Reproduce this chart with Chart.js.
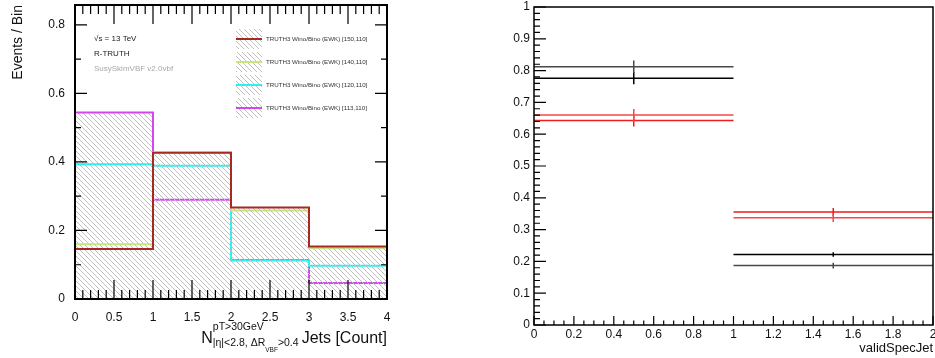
<!DOCTYPE html>
<html>
<head>
<meta charset="utf-8">
<script src="https://cdn.jsdelivr.net/npm/chart.js@4.4.0/dist/chart.umd.min.js"></script>
<style>
  html, body { margin: 0; padding: 0; background: #fff; }
  #wrap { position: relative; width: 935px; height: 358px; overflow: hidden; }
  #jetsChart { position: absolute; left: 0; top: 0; }
  #specChart { position: absolute; left: 467px; top: 0; }
</style>
</head>
<body>
<div id="wrap">
  <canvas id="jetsChart" width="467" height="358"></canvas>
  <canvas id="specChart" width="468" height="358"></canvas>
</div>
<script>
// N jets histogram (left)
const jetEdges = [0, 1, 2, 3, 4];
const jetLabels = [
  'TRUTH3 Wino/Bino (EWK) [150,110]',
  'TRUTH3 Wino/Bino (EWK) [140,110]',
  'TRUTH3 Wino/Bino (EWK) [120,110]',
  'TRUTH3 Wino/Bino (EWK) [113,110]'
];
const jet150 = [0.146, 0.427, 0.267, 0.153];
const jet140 = [0.160, 0.428, 0.258, 0.148];
const jet120 = [0.393, 0.389, 0.112, 0.097];
const jet113 = [0.544, 0.290, 0.114, 0.047];
const jetXTicks = [0, 0.5, 1, 1.5, 2, 2.5, 3, 3.5, 4];
const jetYTicks = [0, 0.2, 0.4, 0.6, 0.8];

// validSpecJet fractions (right)
const specEdges = [0, 1, 2];
const specGreyVals = [0.812, 0.187];
const specGreyErrs = [0.020, 0.009];
const specBlackVals = [0.776, 0.222];
const specBlackErrs = [0.019, 0.007];
const specRedAVals = [0.660, 0.337];
const specRedAErrs = [0.019, 0.013];
const specRedBVals = [0.643, 0.355];
const specRedBErrs = [0.019, 0.013];
const specXTicks = [0, 0.2, 0.4, 0.6, 0.8, 1, 1.2, 1.4, 1.6, 1.8, 2];
const specYTicks = [0, 0.1, 0.2, 0.3, 0.4, 0.5, 0.6, 0.7, 0.8, 0.9, 1];

Chart.defaults.font.family = "'Liberation Sans', Arial, sans-serif";
Chart.defaults.color = '#111';

const fmt = v => String(Math.round(v * 1000) / 1000);

function stepPoints(edges, vals) {
  const pts = vals.map((v, i) => ({ x: edges[i], y: v }));
  pts.push({ x: edges[edges.length - 1], y: vals[vals.length - 1] });
  return pts;
}

function binSegments(edges, vals) {
  const pts = [];
  vals.forEach((v, i) => {
    if (i) pts.push({ x: edges[i], y: null });
    pts.push({ x: edges[i], y: v }, { x: edges[i + 1], y: v });
  });
  return pts;
}

function errorBars(edges, vals, errs) {
  const pts = [];
  vals.forEach((v, i) => {
    const c = (edges[i] + edges[i + 1]) / 2;
    if (i) pts.push({ x: c, y: null });
    pts.push({ x: c, y: v - errs[i] }, { x: c, y: v + errs[i] });
  });
  return pts;
}

function hatch(ctx) {
  const c = document.createElement('canvas');
  c.width = 5; c.height = 5;
  const g = c.getContext('2d');
  g.fillStyle = '#c0c0c0';
  for (let i = 0; i < 5; i++) g.fillRect(i, i, 1, 1);
  return ctx.createPattern(c, 'repeat');
}

// ROOT style ticks drawn inside the frame
const rootTicks = {
  id: 'rootTicks',
  afterDraw(chart, args, opts) {
    const { ctx, chartArea: a, scales } = chart;
    ctx.save();
    ctx.strokeStyle = '#000';
    ctx.lineWidth = 1.2;
    ctx.beginPath();
    ['x', 'y'].forEach(id => {
      const spec = opts[id];
      const s = scales[id];
      const n = Math.round((s.max - s.min) / spec.minor);
      for (let i = 0; i <= n; i++) {
        const v = s.min + i * spec.minor;
        const r = v / spec.major;
        const len = Math.abs(r - Math.round(r)) < 1e-6 ? spec.majorLen : spec.minorLen;
        const p = s.getPixelForValue(v);
        if (id === 'x') {
          ctx.moveTo(p, a.bottom); ctx.lineTo(p, a.bottom - len);
          if (spec.mirror) { ctx.moveTo(p, a.top); ctx.lineTo(p, a.top + len); }
        } else {
          ctx.moveTo(a.left, p); ctx.lineTo(a.left + len, p);
          if (spec.mirror) { ctx.moveTo(a.right, p); ctx.lineTo(a.right - len, p); }
        }
      }
    });
    ctx.stroke();
    ctx.lineWidth = opts.frame;
    ctx.strokeRect(a.left, a.top, a.width, a.height);
    ctx.restore();
  }
};

// labels, legend and axis title of the jets plot
const jetNotes = {
  id: 'jetNotes',
  afterDraw(chart, args, opts) {
    const ctx = chart.ctx;
    const fam = "'Liberation Sans', Arial, sans-serif";
    ctx.save();
    ctx.textBaseline = 'middle';
    ctx.textAlign = 'left';
    ctx.font = '8px ' + fam;
    ctx.fillStyle = '#222';
    ctx.fillText('\u221As = 13 TeV', 94, 39);
    ctx.fillText('R-TRUTH', 94, 54);
    ctx.fillStyle = '#a8a8a8';
    ctx.fillText('SusySkimVBF v2.0vbf', 94, 69);

    chart.data.datasets.forEach((ds, i) => {
      const y = 39 + i * 23;
      ctx.fillStyle = opts.pattern;
      ctx.fillRect(236, y - 10, 26, 20);
      ctx.strokeStyle = ds.borderColor;
      ctx.lineWidth = 2;
      ctx.beginPath();
      ctx.moveTo(236, y); ctx.lineTo(262, y);
      ctx.stroke();
      ctx.fillStyle = '#333';
      ctx.font = '6.2px ' + fam;
      ctx.fillText(ds.label, 266, y);
    });

    // x title: N^{pT>30GeV}_{|eta|<2.8, dR_VBF>0.4} Jets [Count]
    ctx.fillStyle = '#111';
    ctx.textBaseline = 'alphabetic';
    const base = 343;
    const w = (txt, size) => { ctx.font = size + 'px ' + fam; return ctx.measureText(txt).width; };
    const subParts = [['|\u03B7|<2.8, \u0394R', 10.5, 3], ['VBF', 6.5, 9], ['>0.4', 10.5, 3]];
    const wN = w('N', 16);
    const wSup = w('pT>30GeV', 10.5);
    const wSub = subParts.reduce((t, p) => t + w(p[0], p[1]), 0);
    const wStack = Math.max(wSup, wSub);
    const wJets = w('Jets [Count]', 16);
    let x = chart.chartArea.right - (wN + wStack + 3 + wJets);
    ctx.font = '16px ' + fam;
    ctx.fillText('N', x, base);
    x += wN;
    ctx.font = '10.5px ' + fam;
    ctx.fillText('pT>30GeV', x, base - 13);
    let sx = x;
    subParts.forEach(p => {
      ctx.font = p[1] + 'px ' + fam;
      ctx.fillText(p[0], sx, base + p[2]);
      sx += ctx.measureText(p[0]).width;
    });
    x += wStack + 3;
    ctx.font = '16px ' + fam;
    ctx.fillText('Jets [Count]', x, base);
    ctx.restore();
  }
};

const jetsCtx = document.getElementById('jetsChart').getContext('2d');
const jetHatch = hatch(jetsCtx);

function jetSet(label, vals, color) {
  return {
    label: label,
    data: stepPoints(jetEdges, vals),
    stepped: 'before',
    borderColor: color,
    borderWidth: 2,
    backgroundColor: jetHatch,
    fill: 'origin',
    pointRadius: 0
  };
}

new Chart(jetsCtx, {
  type: 'line',
  data: {
    datasets: [
      jetSet(jetLabels[0], jet150, '#a62a22'),
      jetSet(jetLabels[1], jet140, '#c9e67c'),
      jetSet(jetLabels[2], jet120, '#2cf0f0'),
      jetSet(jetLabels[3], jet113, '#d646f0')
    ]
  },
  options: {
    responsive: false,
    animation: false,
    layout: { padding: { left: 0, top: 5, right: 80, bottom: 0 } },
    scales: {
      x: {
        type: 'linear', min: 0, max: 4,
        afterBuildTicks: s => { s.ticks = jetXTicks.map(value => ({ value })); },
        afterFit: s => { s.height = 59; s.paddingLeft = 0; s.paddingRight = 0; },
        grid: { display: false, drawTicks: false },
        border: { display: false },
        ticks: { padding: 11, maxRotation: 0, autoSkip: false, font: { size: 12 }, callback: v => fmt(v) }
      },
      y: {
        type: 'linear', min: 0, max: 0.858,
        afterBuildTicks: s => { s.ticks = jetYTicks.map(value => ({ value })); },
        afterFit: s => { s.width = 75; s.paddingTop = 0; s.paddingBottom = 0; },
        grid: { display: false, drawTicks: false },
        border: { display: false },
        ticks: { padding: 10, autoSkip: false, font: { size: 12 }, callback: v => fmt(v) },
        title: {
          display: true, text: 'Events / Bin', align: 'end',
          font: { size: 14 }, padding: { top: 10, bottom: 0 }
        }
      }
    },
    plugins: {
      legend: { display: false },
      tooltip: { enabled: false },
      rootTicks: {
        frame: 2,
        x: { major: 0.5, minor: 0.1, majorLen: 19, minorLen: 9, mirror: true },
        y: { major: 0.2, minor: 0.1, majorLen: 12, minorLen: 6, mirror: true }
      },
      jetNotes: { pattern: jetHatch }
    }
  },
  plugins: [rootTicks, jetNotes]
});

function specSets(vals, errs, color) {
  const common = { borderColor: color, borderWidth: 1.5, pointRadius: 0, fill: false, spanGaps: false };
  return [
    Object.assign({ data: binSegments(specEdges, vals) }, common),
    Object.assign({ data: errorBars(specEdges, vals, errs) }, common)
  ];
}

new Chart(document.getElementById('specChart'), {
  type: 'line',
  data: {
    datasets: [
      ...specSets(specGreyVals, specGreyErrs, '#484848'),
      ...specSets(specBlackVals, specBlackErrs, '#000000'),
      ...specSets(specRedAVals, specRedAErrs, '#f24a4a'),
      ...specSets(specRedBVals, specRedBErrs, '#f01c1c')
    ]
  },
  options: {
    responsive: false,
    animation: false,
    layout: { padding: { left: 0, top: 7, right: 2, bottom: 0 } },
    scales: {
      x: {
        type: 'linear', min: 0, max: 2,
        afterBuildTicks: s => { s.ticks = specXTicks.map(value => ({ value })); },
        afterFit: s => { s.height = 33; s.paddingLeft = 0; s.paddingRight = 0; },
        grid: { display: false, drawTicks: false },
        border: { display: false },
        ticks: { padding: 2, maxRotation: 0, autoSkip: false, font: { size: 12 }, callback: v => fmt(v) },
        title: {
          display: true, text: 'validSpecJet', align: 'end',
          font: { size: 13 }, padding: { top: 0, bottom: 2.2 }
        }
      },
      y: {
        type: 'linear', min: 0, max: 1,
        afterBuildTicks: s => { s.ticks = specYTicks.map(value => ({ value })); },
        afterFit: s => { s.width = 67; s.paddingTop = 0; s.paddingBottom = 0; },
        grid: { display: false, drawTicks: false },
        border: { display: false },
        ticks: { padding: 4, autoSkip: false, font: { size: 12 }, callback: v => fmt(v) }
      }
    },
    plugins: {
      legend: { display: false },
      tooltip: { enabled: false },
      rootTicks: {
        frame: 1.5,
        x: { major: 0.2, minor: 0.05, majorLen: 9, minorLen: 4.5, mirror: false },
        y: { major: 0.1, minor: 0.02, majorLen: 12, minorLen: 6, mirror: false }
      }
    }
  },
  plugins: [rootTicks]
});
</script>
</body>
</html>
